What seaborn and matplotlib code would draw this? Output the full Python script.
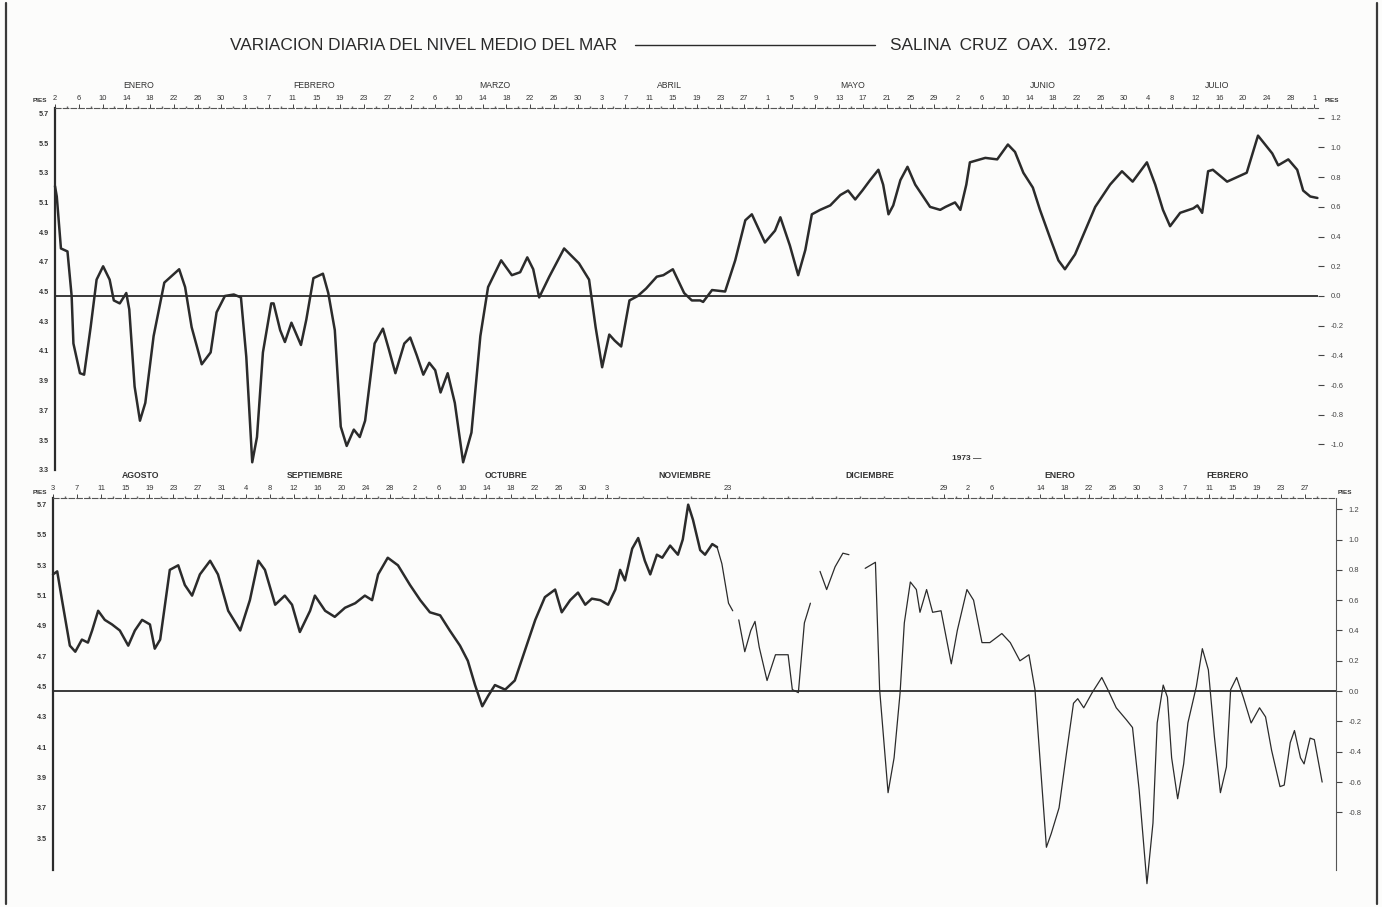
import numpy as np
import pandas as pd
import matplotlib
matplotlib.use("Agg")
import matplotlib.pyplot as plt
import matplotlib.transforms as mtransforms
from matplotlib.lines import Line2D
import seaborn as sns

# ---------------------------------------------------------------------------
# Daily mean sea level, Salina Cruz (Oax.), deviation from the datum line (ft).
# Day numbers are counted from 1 Jan 1972 (day 367 = 1 Jan 1973).
# ---------------------------------------------------------------------------
top_day = [2.0, 2.3, 3.0, 4.1, 4.8, 5.1, 6.2, 6.9, 8.0, 9.0, 10.1, 11.2, 11.9, 12.9,
           14.0, 14.5, 15.4, 16.3, 17.2, 18.6, 20.4, 22.9, 23.9, 25.0, 26.7, 28.2,
           29.2, 30.6, 32.1, 33.3, 34.2, 35.2, 36.0, 37.0, 38.4, 38.8, 39.9, 40.7,
           41.8, 43.4, 44.3, 45.5, 47.1, 48.0, 49.1, 50.1, 51.1, 52.3, 53.3, 54.2,
           55.8, 57.2, 58.2, 59.3, 60.8, 61.8, 62.9, 64.0, 65.0, 66.0, 66.9, 68.1,
           69.3, 70.7, 72.1, 73.6, 74.9, 77.1, 78.9, 80.3, 81.5, 82.5, 83.5, 85.2,
           87.7, 90.2, 91.9, 93.0, 94.1, 95.3, 96.2, 97.3, 98.7, 100.1, 101.5, 103.3,
           104.4, 106.0, 107.9, 109.2, 110.6, 111.1, 112.6, 114.8, 116.5, 118.2,
           119.3, 121.5, 123.2, 124.1, 125.7, 127.1, 128.3, 129.4, 130.8, 132.5,
           134.2, 135.5, 136.7, 137.9, 139.2, 140.6, 141.4, 142.3, 143.1, 144.3,
           145.5, 146.8, 149.3, 151.0, 151.9, 153.5, 154.4, 155.4, 156.0, 158.6,
           160.6, 162.4, 163.6, 165.0, 166.6, 167.8, 169.6, 170.9, 172.0, 173.7,
           175.4, 177.1, 179.6, 181.6, 183.4, 185.8, 187.2, 188.5, 189.7, 191.4,
           193.6, 194.3, 195.1, 196.1, 196.9, 199.3, 202.6, 204.5, 206.9, 207.9,
           209.6, 211.1, 212.1, 213.3, 214.5]
top_ft = [0.74, 0.67, 0.32, 0.30, 0.00, -0.32, -0.52, -0.53, -0.21, 0.11, 0.20, 0.11,
          -0.03, -0.05, 0.02, -0.09, -0.61, -0.84, -0.72, -0.27, 0.09, 0.18, 0.06,
          -0.21, -0.46, -0.38, -0.11, 0.00, 0.01, -0.01, -0.41, -1.12, -0.95, -0.38,
          -0.05, -0.05, -0.23, -0.31, -0.18, -0.33, -0.16, 0.12, 0.15, 0.02, -0.23,
          -0.88, -1.01, -0.90, -0.95, -0.84, -0.32, -0.22, -0.36, -0.52, -0.32,
          -0.28, -0.40, -0.53, -0.45, -0.50, -0.65, -0.52, -0.72, -1.12, -0.92,
          -0.27, 0.06, 0.24, 0.14, 0.16, 0.26, 0.18, -0.01, 0.13, 0.32, 0.22, 0.11,
          -0.21, -0.48, -0.26, -0.30, -0.34, -0.03, 0.00, 0.05, 0.13, 0.14, 0.18,
          0.02, -0.03, -0.03, -0.04, 0.04, 0.03, 0.24, 0.51, 0.55, 0.36, 0.44, 0.53,
          0.34, 0.14, 0.31, 0.55, 0.58, 0.61, 0.68, 0.71, 0.65, 0.71, 0.78, 0.85,
          0.75, 0.55, 0.61, 0.78, 0.87, 0.75, 0.60, 0.58, 0.60, 0.63, 0.58, 0.75,
          0.90, 0.93, 0.92, 1.02, 0.97, 0.83, 0.73, 0.58, 0.38, 0.24, 0.18, 0.28,
          0.44, 0.60, 0.75, 0.84, 0.77, 0.90, 0.75, 0.58, 0.47, 0.56, 0.59, 0.61,
          0.56, 0.84, 0.85, 0.77, 0.83, 1.08, 0.96, 0.88, 0.92, 0.85, 0.71, 0.67,
          0.66]

# Aug 1972 - Feb 1973, heavy pen trace (Aug - late Nov)
bot_heavy_day = [216.0, 216.7, 217.5, 218.8, 219.7, 220.8, 221.8, 222.5, 223.5, 224.6,
                 225.8, 227.1, 228.5, 229.6, 230.8, 232.1, 232.9, 233.8, 235.4, 236.8,
                 237.9, 239.1, 240.4, 242.1, 243.4, 245.1, 247.1, 248.7, 250.1, 251.2,
                 252.9, 254.5, 255.7, 257.0, 258.7, 259.5, 261.2, 262.8, 264.5, 266.2,
                 267.8, 269.0, 270.0, 271.6, 273.3, 275.3, 277.0, 278.6, 280.3, 281.9,
                 283.6, 284.9, 286.1, 287.3, 288.3, 289.4, 291.1, 292.7, 294.4, 296.1,
                 297.7, 299.4, 300.5, 301.9, 303.2, 304.4, 305.5, 306.9, 308.2, 309.4,
                 310.2, 311.0, 312.2, 313.2, 314.3, 315.2, 316.3, 317.2, 318.5, 319.8,
                 320.6, 321.5, 322.3, 323.5, 324.3, 325.5, 326.3]
bot_heavy_ft = [0.77, 0.79, 0.60, 0.30, 0.26, 0.34, 0.32, 0.40, 0.53, 0.47, 0.44, 0.40,
                0.30, 0.40, 0.47, 0.44, 0.28, 0.34, 0.80, 0.83, 0.70, 0.63, 0.77, 0.86,
                0.77, 0.53, 0.40, 0.60, 0.86, 0.80, 0.57, 0.63, 0.57, 0.39, 0.53, 0.63,
                0.53, 0.49, 0.55, 0.58, 0.63, 0.60, 0.77, 0.88, 0.83, 0.70, 0.60, 0.52,
                0.50, 0.40, 0.30, 0.20, 0.04, -0.10, -0.03, 0.04, 0.01, 0.07, 0.27, 0.47,
                0.62, 0.67, 0.52, 0.60, 0.65, 0.57, 0.61, 0.60, 0.57, 0.67, 0.80, 0.73,
                0.94, 1.01, 0.86, 0.77, 0.90, 0.88, 0.96, 0.90, 1.00, 1.23, 1.13, 0.93,
                0.90, 0.97, 0.95]

# light pen trace (late Nov - Feb); NaN marks breaks in the ink
bot_light_day = [326.3, 327.1, 328.2, 328.9, np.nan, 329.9, 330.9, 331.9, 332.6, 333.3,
                 334.6, 336.0, 338.1, 338.8, 339.8, 340.8, 341.8, np.nan, 343.4, 344.5,
                 345.9, 347.2, 348.2, np.nan, 350.9, 352.6, 353.3, 354.7, 355.7, 356.7,
                 357.4, 358.4, 359.4, 360.0, 361.1, 362.1, 363.5, 365.2, 366.2, 367.8,
                 368.9, 370.3, 371.6, 373.6, 375.0, 376.6, 378.1, 379.1, 380.1, 381.0,
                 381.8, 383.1, 384.4, 385.5, 386.2, 387.2, 388.6, 390.2, 391.2, 392.6,
                 394.3, 395.3, 396.4, 397.7, 398.7, 399.4, 400.4, 401.1, 401.8, 402.8,
                 403.8, 404.5, 405.9, 406.9, 407.9, 408.9, 409.9, 410.9, 411.6, 412.6,
                 413.7, 415.0, 416.4, 417.4, 418.4, 419.8, 420.5, 421.5, 422.2, 423.2,
                 423.8, 424.8, 425.5, 426.8]
bot_light_ft = [0.95, 0.84, 0.58, 0.53, np.nan, 0.47, 0.26, 0.40, 0.46, 0.29, 0.07,
                0.24, 0.24, 0.01, -0.01, 0.45, 0.58, np.nan, 0.79, 0.67, 0.82, 0.91,
                0.90, np.nan, 0.81, 0.85, 0.01, -0.67, -0.44, -0.01, 0.45, 0.72, 0.67,
                0.52, 0.67, 0.52, 0.53, 0.18, 0.40, 0.67, 0.60, 0.32, 0.32, 0.38, 0.32,
                0.20, 0.24, 0.01, -0.54, -1.03, -0.94, -0.77, -0.39, -0.08, -0.05,
                -0.11, -0.01, 0.09, 0.01, -0.11, -0.19, -0.24, -0.65, -1.27, -0.87,
                -0.21, 0.04, -0.04, -0.44, -0.71, -0.48, -0.21, 0.03, 0.28, 0.14,
                -0.30, -0.67, -0.50, 0.01, 0.09, -0.04, -0.21, -0.11, -0.17, -0.39,
                -0.63, -0.62, -0.34, -0.26, -0.44, -0.48, -0.31, -0.32, -0.60]

# date axis: labelled every 4 days
top_tick_days = list(range(2, 215, 4))
top_tick_labels = ["2", "6", "10", "14", "18", "22", "26", "30",
                   "3", "7", "11", "15", "19", "23", "27",
                   "2", "6", "10", "14", "18", "22", "26", "30",
                   "3", "7", "11", "15", "19", "23", "27",
                   "1", "5", "9", "13", "17", "21", "25", "29",
                   "2", "6", "10", "14", "18", "22", "26", "30",
                   "4", "8", "12", "16", "20", "24", "28", "1"]
bot_tick_days = [216, 220, 224, 228, 232, 236, 240, 244, 248, 252, 256, 260, 264, 268,
                 272, 276, 280, 284, 288, 292, 296, 300, 304, 308, 328, 364, 368, 372,
                 380, 384, 388, 392, 396, 400, 404, 408, 412, 416, 420, 424]
bot_tick_labels = ["3", "7", "11", "15", "19", "23", "27", "31",
                   "4", "8", "12", "16", "20", "24", "28",
                   "2", "6", "10", "14", "18", "22", "26", "30", "3",
                   "23", "29", "2", "6",
                   "14", "18", "22", "26", "30",
                   "3", "7", "11", "15", "19", "23", "27"]

top_months = ["ENERO", "FEBRERO", "MARZO", "ABRIL", "MAYO", "JUNIO", "JULIO"]
top_month_days = [16.0, 45.6, 76.1, 105.5, 136.3, 168.3, 197.6]
bot_months = ["AGOSTO", "SEPTIEMBRE", "OCTUBRE", "NOVIEMBRE", "DICIEMBRE", "ENERO", "FEBRERO"]
bot_month_days = [230.5, 259.5, 291.2, 321.0, 351.7, 383.3, 411.0]

# scales: left in feet on the gauge, right as deviation from the datum line
top_left_levels = [5.7, 5.5, 5.3, 5.1, 4.9, 4.7, 4.5, 4.3, 4.1, 3.9, 3.7, 3.5, 3.3]
bot_left_levels = [5.7, 5.5, 5.3, 5.1, 4.9, 4.7, 4.5, 4.3, 4.1, 3.9, 3.7, 3.5]
top_right_levels = [1.2, 1.0, 0.8, 0.6, 0.4, 0.2, 0.0, -0.2, -0.4, -0.6, -0.8, -1.0]
bot_right_levels = [1.2, 1.0, 0.8, 0.6, 0.4, 0.2, 0.0, -0.2, -0.4, -0.6, -0.8]
DATUM = 4.47   # gauge reading of the 0.0 line

INK = "#2b2b2b"
PAPER = "#fcfcfb"

sns.set_theme(style="white")
plt.rcParams["font.family"] = ["Liberation Sans", "DejaVu Sans"]

W, H = 1382, 907
fig = plt.figure(figsize=(W / 100, H / 100), dpi=100)
fig.patch.set_facecolor(PAPER)


def box(l, t, r, b):
    return [l / W, 1 - b / H, (r - l) / W, (b - t) / H]


ax1 = fig.add_axes(box(55, 108, 1318, 470))
ax2 = fig.add_axes(box(53, 498, 1336, 870))


def fmt_right(v):
    return "0.0" if abs(v) < 1e-9 else f"{v:.1f}"


def style_panel(ax, xlim, ylim, left_levels, right_levels, tdays, tlabels,
                months, mdays, month_weight, right_spine):
    ax.set_facecolor("none")
    ax.set_xlim(*xlim)
    ax.set_ylim(*ylim)
    for s in ("bottom", "right"):
        ax.spines[s].set_visible(False)
    ax.spines["left"].set_color(INK)
    ax.spines["left"].set_linewidth(1.6)
    ax.spines["top"].set_color("#555555")
    ax.spines["top"].set_linewidth(0.8)
    ax.spines["top"].set_linestyle((0, (5, 2)))

    # date axis along the top
    ax.xaxis.set_ticks_position("top")
    ax.set_xticks(tdays)
    ax.set_xticklabels(tlabels)
    ax.set_xticks(np.arange(xlim[0] + 2.0, xlim[1], 4.0), minor=True)
    ax.tick_params(axis="x", which="major", direction="out", length=3, width=0.7,
                   color="#444444", labelsize=5.4, pad=1, labelcolor="#333333")
    ax.tick_params(axis="x", which="minor", direction="out", length=1.2, width=1.0,
                   color="#666666")

    # gauge scale on the left
    ax.set_yticks([v - DATUM for v in left_levels])
    ax.set_yticklabels([f"{v:.1f}" for v in left_levels], fontweight="bold")
    minor = [v - 0.1 - DATUM for v in left_levels[:-1]]
    ax.set_yticks(minor, minor=True)
    ax.tick_params(axis="y", which="major", direction="inout", length=7, width=0.8,
                   color=INK, labelsize=5.2, pad=1, labelcolor="#333333")
    ax.tick_params(axis="y", which="minor", direction="inout", length=3, width=0.7,
                   color=INK)

    # deviation scale on the right
    sec = ax.secondary_yaxis("right")
    sec.set_yticks(right_levels)
    sec.set_yticklabels([fmt_right(v) for v in right_levels])
    sec.tick_params(axis="y", direction="out", length=4, width=0.8, color="#444444",
                    labelsize=5.5, pad=5, labelcolor="#444444")
    sec.spines["right"].set_visible(right_spine)
    sec.spines["right"].set_color("#555555")
    sec.spines["right"].set_linewidth(0.8)

    ax.axhline(0.0, color=INK, lw=1.3, zorder=1)

    trans = mtransforms.blended_transform_factory(ax.transData, ax.transAxes)
    bbox_h = ax.get_position().height * H
    for name, d in zip(months, mdays):
        ax.text(d, 1 + 23 / bbox_h, name, transform=trans, ha="center", va="center",
                fontsize=6.2, fontweight=month_weight, color="#333333")


style_panel(ax1, (2.0, 214.6), (-1.172, 1.266), top_left_levels, top_right_levels,
            top_tick_days, top_tick_labels, top_months, top_month_days, "normal", False)
style_panel(ax2, (216.0, 429.1), (-1.18, 1.274), bot_left_levels, bot_right_levels,
            bot_tick_days, bot_tick_labels, bot_months, bot_month_days, "bold", True)

# traces
line_kw = dict(estimator=None, sort=False, clip_on=False, zorder=3,
               solid_joinstyle="round", solid_capstyle="round")
top_df = pd.DataFrame({"day": top_day, "ft": top_ft})
sns.lineplot(data=top_df, x="day", y="ft", ax=ax1, color=INK, lw=1.8, **line_kw)

heavy_df = pd.DataFrame({"day": bot_heavy_day, "ft": bot_heavy_ft})
sns.lineplot(data=heavy_df, x="day", y="ft", ax=ax2, color=INK, lw=1.8, **line_kw)

light_df = pd.DataFrame({"day": bot_light_day, "ft": bot_light_ft})
light_df["piece"] = light_df["ft"].isna().cumsum()
light_df = light_df.dropna()
sns.lineplot(data=light_df, x="day", y="ft", units="piece", ax=ax2, color=INK, lw=0.9,
             legend=False, **line_kw)

for ax in (ax1, ax2):
    ax.set_xlabel("")
    ax.set_ylabel("")

# title line
fig.text(230 / W, 1 - 45 / H, "VARIACION DIARIA DEL NIVEL MEDIO DEL MAR",
         ha="left", va="center", fontsize=12.4, color="#2a2a2a")
fig.add_artist(Line2D([635 / W, 875 / W], [1 - 45 / H, 1 - 45 / H],
                      color="#2a2a2a", lw=1.0, transform=fig.transFigure))
fig.text(890 / W, 1 - 45 / H, "SALINA  CRUZ  OAX.  1972.",
         ha="left", va="center", fontsize=12.4, color="#2a2a2a")

# unit captions
fig.text(47 / W, 1 - 101 / H, "PIES", ha="right", va="center", fontsize=4.6,
         fontweight="bold", color="#333333")
fig.text(1325 / W, 1 - 101 / H, "PIES", ha="left", va="center", fontsize=4.6,
         fontweight="bold", color="#333333")
fig.text(47 / W, 1 - 492 / H, "PIES", ha="right", va="center", fontsize=4.6,
         fontweight="bold", color="#333333")
fig.text(1338 / W, 1 - 493 / H, "PIES", ha="left", va="center", fontsize=4.6,
         fontweight="bold", color="#333333")
fig.text(952 / W, 1 - 458 / H, "1973 \u2014", ha="left", va="center", fontsize=6,
         fontweight="bold", color="#333333")

# sheet edges (left and right)
for xe in (6, 1377):
    fig.add_artist(Line2D([xe / W, xe / W], [3 / H, 1 - 3 / H], color="#3a3a3a",
                          lw=1.6, transform=fig.transFigure))

fig.savefig("out.png", dpi=100, facecolor=PAPER)
